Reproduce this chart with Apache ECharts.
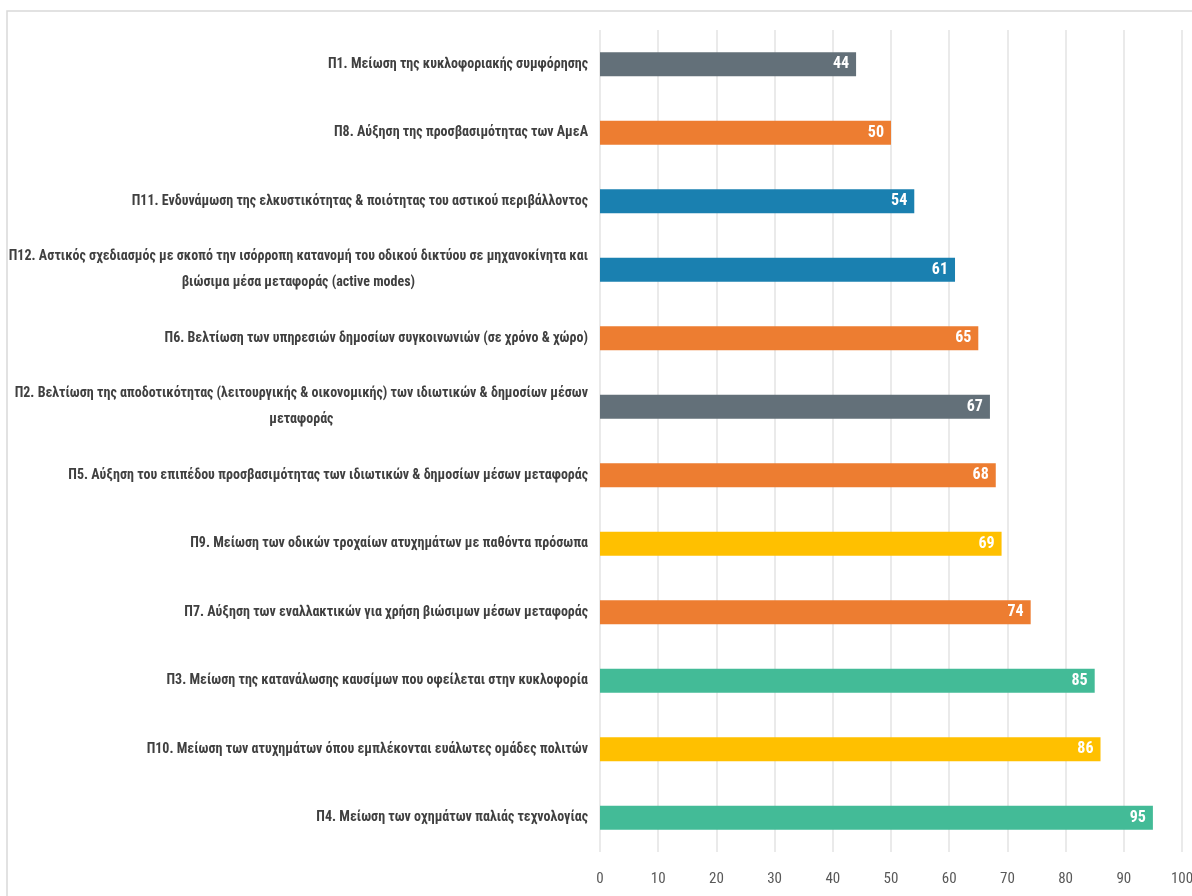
<!DOCTYPE html>
<html>
<head>
<meta charset="utf-8">
<script src="https://cdn.jsdelivr.net/npm/echarts@6/dist/echarts.min.js"></script>
<style>
  html, body { margin: 0; padding: 0; background: #fff; }
  #chart { width: 1192px; height: 896px; }
</style>
</head>
<body>
<div id="chart"></div>
<script>
// Priorities, top to bottom
const categories = [
  'Π1. Μείωση της κυκλοφοριακής συμφόρησης',
  'Π8. Αύξηση της προσβασιμότητας των ΑμεΑ',
  'Π11. Ενδυνάμωση της ελκυστικότητας & ποιότητας του αστικού περιβάλλοντος',
  'Π12. Αστικός σχεδιασμός με σκοπό την ισόρροπη κατανομή του οδικού δικτύου σε μηχανοκίνητα και\nβιώσιμα μέσα μεταφοράς (active modes)',
  'Π6. Βελτίωση των υπηρεσιών δημοσίων συγκοινωνιών (σε χρόνο & χώρο)',
  'Π2. Βελτίωση της αποδοτικότητας (λειτουργικής & οικονομικής) των ιδιωτικών & δημοσίων μέσων\nμεταφοράς',
  'Π5. Αύξηση του επιπέδου προσβασιμότητας των ιδιωτικών & δημοσίων μέσων μεταφοράς',
  'Π9. Μείωση των οδικών τροχαίων ατυχημάτων με παθόντα πρόσωπα',
  'Π7. Αύξηση των εναλλακτικών για χρήση βιώσιμων μέσων μεταφοράς',
  'Π3. Μείωση της κατανάλωσης καυσίμων που οφείλεται στην κυκλοφορία',
  'Π10. Μείωση των ατυχημάτων όπου εμπλέκονται ευάλωτες ομάδες πολιτών',
  'Π4. Μείωση των οχημάτων παλιάς τεχνολογίας'
];
const values = [44, 50, 54, 61, 65, 67, 68, 69, 74, 85, 86, 95];
// Theme group of each priority (drives the bar colour)
const groups = ['gray', 'orange', 'blue', 'blue', 'orange', 'gray', 'orange', 'yellow', 'orange', 'green', 'yellow', 'green'];
const xTicks = [0, 10, 20, 30, 40, 50, 60, 70, 80, 90, 100];

const palette = {
  gray: '#637079',
  orange: '#ED7D31',
  blue: '#1A80B0',
  yellow: '#FFC000',
  green: '#43BB97'
};

const FONT = '"Roboto Condensed", "Open Sans Condensed", "DejaVu Sans Condensed", sans-serif';

const chart = echarts.init(document.getElementById('chart'), null, { renderer: 'canvas' });

chart.setOption({
  backgroundColor: '#fff',
  animation: false,
  graphic: [{
    type: 'rect',
    silent: true,
    shape: { x: 7, y: 11, width: 1300, height: 1000 },
    style: { fill: 'none', stroke: '#D9D9D9', lineWidth: 1.5 },
    z: -1
  }],
  grid: {
    left: 600, right: 10, top: 30, bottom: 44,
    containLabel: false,
    outerBoundsMode: 'none'
  },
  xAxis: {
    type: 'value',
    min: xTicks[0],
    max: xTicks[xTicks.length - 1],
    interval: 10,
    axisLine: { show: false },
    axisTick: { show: false },
    splitLine: { show: true, lineStyle: { color: '#E3E3E3', width: 1.5 } },
    axisLabel: {
      margin: 20,
      color: '#595959',
      fontFamily: FONT,
      fontSize: 15,
      showMaxLabel: true
    }
  },
  yAxis: {
    type: 'category',
    inverse: true,
    data: categories,
    axisLine: { show: false },
    axisTick: { show: false },
    axisLabel: {
      margin: 12,
      align: 'right',
      formatter: function (v) {
        return v.split('\n').map(function (l) { return '{c|' + l + '}'; }).join('\n');
      },
      rich: {
        c: {
          align: 'center',
          color: '#404040',
          fontFamily: FONT,
          fontSize: 14,
          fontWeight: 'bold',
          lineHeight: 26
        }
      }
    }
  },
  series: [{
    type: 'bar',
    barWidth: 24,
    data: values.map(function (v, i) {
      return { value: v, itemStyle: { color: palette[groups[i]] } };
    }),
    label: {
      show: true,
      position: 'insideRight',
      distance: 7,
      color: '#fff',
      fontFamily: FONT,
      fontSize: 16,
      fontWeight: 'bold'
    }
  }]
});
</script>
</body>
</html>
